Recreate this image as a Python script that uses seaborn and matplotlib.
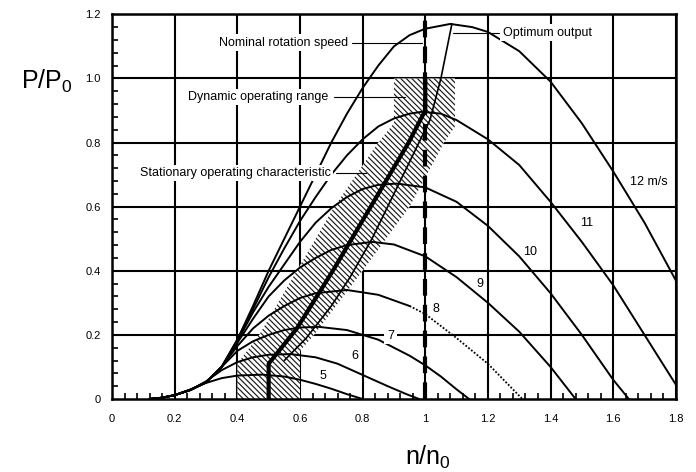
import numpy as np
import matplotlib
matplotlib.use('Agg')
import matplotlib.pyplot as plt
import seaborn as sns

sns.set_style('white')
plt.rcParams['font.family'] = ['Liberation Sans', 'DejaVu Sans']
plt.rcParams['mathtext.fontset'] = 'custom'
plt.rcParams['mathtext.rm'] = 'Liberation Sans'
plt.rcParams['hatch.linewidth'] = 0.85
plt.rcParams['text.color'] = 'black'
plt.rcParams['xtick.color'] = 'black'
plt.rcParams['ytick.color'] = 'black'

# 풍속별 출력 곡선 (n/n0, P/P0) - 그림에서 읽은 값
n_v5 = [0.12, 0.16, 0.2, 0.25, 0.3, 0.35, 0.4, 0.48, 0.55, 0.6, 0.65, 0.7, 0.75, 0.8]
p_v5 = [0.0, 0.004, 0.012, 0.03, 0.05, 0.065, 0.073, 0.076, 0.07, 0.06, 0.047, 0.032, 0.015, 0.0]

n_v6 = [0.12, 0.16, 0.2, 0.25, 0.3, 0.35, 0.4, 0.45, 0.5, 0.57, 0.65, 0.72, 0.8, 0.88, 0.94, 0.98]
p_v6 = [0.0, 0.004, 0.012, 0.028, 0.055, 0.09, 0.115, 0.13, 0.138, 0.14, 0.13, 0.11, 0.075, 0.04, 0.015, 0.0]

n_v7 = [0.12, 0.16, 0.2, 0.25, 0.3, 0.35, 0.4, 0.45, 0.5, 0.55, 0.6, 0.66, 0.75, 0.85, 0.95, 1.0, 1.05, 1.1, 1.14]
p_v7 = [0.0, 0.004, 0.012, 0.028, 0.052, 0.1, 0.15, 0.18, 0.2, 0.215, 0.223, 0.225, 0.215, 0.185, 0.135, 0.105, 0.07, 0.03, 0.0]

n_v8 = [0.12, 0.16, 0.2, 0.25, 0.3, 0.35, 0.4, 0.45, 0.5, 0.55, 0.6, 0.65, 0.75, 0.85, 0.95]
p_v8 = [0.0, 0.004, 0.012, 0.028, 0.052, 0.1, 0.165, 0.22, 0.26, 0.29, 0.315, 0.33, 0.34, 0.325, 0.29]
n_v8_tail = [0.95, 1.0, 1.1, 1.2, 1.31]
p_v8_tail = [0.29, 0.265, 0.19, 0.11, 0.0]

n_v9 = [0.12, 0.16, 0.2, 0.25, 0.3, 0.35, 0.4, 0.45, 0.5, 0.55, 0.6, 0.65, 0.7, 0.75, 0.83, 0.9, 1.0, 1.1, 1.2, 1.3, 1.4, 1.48]
p_v9 = [0.0, 0.004, 0.012, 0.028, 0.052, 0.1, 0.175, 0.25, 0.32, 0.37, 0.41, 0.44, 0.465, 0.48, 0.49, 0.482, 0.445, 0.38, 0.3, 0.21, 0.1, 0.0]

n_v10 = [0.12, 0.16, 0.2, 0.25, 0.3, 0.35, 0.4, 0.45, 0.5, 0.55, 0.6, 0.65, 0.7, 0.75, 0.8, 0.85, 0.91,
         1.0, 1.1, 1.2, 1.3, 1.4, 1.5, 1.6, 1.65]
p_v10 = [0.0, 0.004, 0.012, 0.028, 0.052, 0.1, 0.18, 0.27, 0.35, 0.42, 0.49, 0.55, 0.595, 0.63, 0.655, 0.668, 0.672,
         0.66, 0.615, 0.54, 0.445, 0.33, 0.2, 0.06, 0.0]

n_v11 = [0.12, 0.16, 0.2, 0.25, 0.3, 0.35, 0.4, 0.45, 0.5, 0.55, 0.6, 0.65, 0.7, 0.75, 0.8, 0.85, 0.9, 0.95, 0.99,
         1.05, 1.1, 1.2, 1.3, 1.4, 1.5, 1.6, 1.7, 1.8, 1.82]
p_v11 = [0.0, 0.004, 0.012, 0.028, 0.052, 0.1, 0.185, 0.28, 0.38, 0.47, 0.555, 0.63, 0.7, 0.76, 0.81, 0.85, 0.875, 0.89, 0.896,
         0.89, 0.87, 0.81, 0.73, 0.615, 0.49, 0.355, 0.2, 0.045, 0.0]

n_v12 = [0.12, 0.16, 0.2, 0.25, 0.3, 0.35, 0.4, 0.45, 0.5, 0.55, 0.6, 0.65, 0.7, 0.75, 0.8, 0.85, 0.9, 0.95, 1.0,
         1.08, 1.15, 1.2, 1.3, 1.4, 1.5, 1.6, 1.7, 1.8]
p_v12 = [0.0, 0.004, 0.012, 0.028, 0.052, 0.1, 0.185, 0.29, 0.4, 0.5, 0.6, 0.7, 0.8, 0.89, 0.97, 1.04, 1.1, 1.135, 1.155,
         1.17, 1.16, 1.145, 1.085, 0.99, 0.86, 0.71, 0.55, 0.37]

# 동적 운전 범위 (빗금 영역) 경계
band_n = [0.4, 0.4, 0.47, 0.59, 0.71, 0.85, 0.9, 0.9, 1.095, 1.095, 1.06, 0.95, 0.8, 0.645, 0.6, 0.6]
band_p = [0.0, 0.11, 0.2, 0.4, 0.6, 0.8, 0.86, 1.0, 1.0, 0.85, 0.8, 0.6, 0.4, 0.2, 0.15, 0.0]

# 정상 운전 특성 (굵은 선)
stat_n = [0.5, 0.5, 0.59, 0.705, 0.826, 0.947, 1.0, 1.0]
stat_p = [0.0, 0.11, 0.22, 0.4, 0.6, 0.8, 0.9, 1.0]

# 최적 출력 선
opt_n = [0.55, 0.62, 0.7, 0.76, 0.83, 0.88, 0.97, 1.015, 1.05, 1.085]
opt_p = [0.12, 0.19, 0.29, 0.38, 0.5, 0.6, 0.78, 0.87, 1.0, 1.17]

speed_labels = ['5', '6', '7', '8', '9', '10', '11', '12 m/s']
label_n = [0.674, 0.774, 0.889, 1.035, 1.175, 1.335, 1.515, 1.715]
label_p = [0.073, 0.135, 0.198, 0.28, 0.36, 0.46, 0.55, 0.676]

x_ticks = [0, 0.2, 0.4, 0.6, 0.8, 1.0, 1.2, 1.4, 1.6, 1.8]
x_ticklabels = ['0', '0.2', '0.4', '0.6', '0.8', '1', '1.2', '1.4', '1.6', '1.8']
y_ticks = [0, 0.2, 0.4, 0.6, 0.8, 1.0, 1.2]
y_ticklabels = ['0', '0.2', '0.4', '0.6', '0.8', '1.0', '1.2']

fig = plt.figure(figsize=(6.96, 4.72), dpi=100)
ax = fig.add_axes([0.161, 0.1547, 0.810, 0.815])

# 그리드
for xv in x_ticks[1:]:
    ax.axvline(xv, color='black', lw=1.5, zorder=1)
for yv in y_ticks[1:]:
    ax.axhline(yv, color='black', lw=1.5, zorder=1)

# 빗금 영역
ax.fill(band_n, band_p, facecolor='white', edgecolor='#1a1a1a', hatch='\\\\\\\\\\\\', lw=0, zorder=2)

# 곡선
curves = [(n_v5, p_v5), (n_v6, p_v6), (n_v7, p_v7), (n_v8, p_v8), (n_v9, p_v9),
          (n_v10, p_v10), (n_v11, p_v11), (n_v12, p_v12)]
for cn, cp in curves:
    sns.lineplot(x=cn, y=cp, ax=ax, color='black', lw=1.4, sort=False, estimator=None, zorder=3)
sns.lineplot(x=n_v8_tail, y=p_v8_tail, ax=ax, color='black', lw=1.3, ls=(0, (1, 1)),
             sort=False, estimator=None, zorder=3)

sns.lineplot(x=opt_n, y=opt_p, ax=ax, color='black', lw=1.2, sort=False, estimator=None, zorder=4)
sns.lineplot(x=stat_n, y=stat_p, ax=ax, color='black', lw=3.0, sort=False, estimator=None, zorder=4)

# 정격 회전속도 (점선)
ax.axvline(1.0, color='black', lw=3.0, ls=(0, (4, 2.2)), zorder=4)

# 풍속 라벨 (7 은 격자선 위에 흰 배경)
for s, ln, lp in zip(speed_labels, label_n, label_p):
    if s == '7':
        ax.text(ln, lp, s, fontsize=9, ha='center', va='center', zorder=6,
                bbox=dict(facecolor='white', edgecolor='none', pad=2.0))
    else:
        ax.text(ln, lp, s, fontsize=9, ha='center', va='center', zorder=6)

# 주석
bb = dict(facecolor='white', edgecolor='none', pad=1.5)
ax.text(0.753, 1.112, 'Nominal rotation speed', fontsize=9, ha='right', va='center', bbox=bb, zorder=6)
ax.plot([0.765, 0.99], [1.112, 1.112], color='black', lw=0.8, zorder=5)
ax.text(1.247, 1.143, 'Optimum output', fontsize=9, ha='left', va='center', bbox=bb, zorder=6)
ax.plot([1.09, 1.235], [1.143, 1.143], color='black', lw=0.8, zorder=5)
ax.text(0.689, 0.941, 'Dynamic operating range', fontsize=9, ha='right', va='center', bbox=bb, zorder=6)
ax.plot([0.71, 0.935], [0.941, 0.941], color='black', lw=0.8, zorder=5)
ax.text(0.70, 0.704, 'Stationary operating characteristic', fontsize=9, ha='right', va='center', bbox=bb, zorder=6)
ax.plot([0.715, 0.81], [0.704, 0.704], color='black', lw=0.8, zorder=5)

ax.set_xlim(0, 1.8)
ax.set_ylim(0, 1.2)
ax.set_xticks(x_ticks)
ax.set_xticklabels(x_ticklabels, fontsize=8)
ax.set_yticks(y_ticks)
ax.set_yticklabels(y_ticklabels, fontsize=8)
ax.set_xticks(np.arange(0, 1.8001, 0.04), minor=True)
ax.set_yticks(np.arange(0, 1.2001, 0.04), minor=True)
ax.tick_params(axis='x', which='major', length=0, pad=11)
ax.tick_params(axis='y', which='major', length=0, pad=8)
ax.tick_params(which='minor', direction='in', length=4, width=1.2, color='black')
ax.tick_params(axis='x', which='minor', top=False, bottom=True)
ax.tick_params(axis='y', which='minor', left=True, right=False)
ax.set_xlabel('')
ax.set_ylabel('')
for sp in ax.spines.values():
    sp.set_color('black')
    sp.set_linewidth(1.8)

fig.text(21 / 696, 1 - 81 / 472, r'P/P$_\mathrm{0}$', fontsize=18, ha='left', va='center')
fig.text(428 / 696, 1 - 457 / 472, r'n/n$_\mathrm{0}$', fontsize=18, ha='center', va='center')

fig.savefig('out.png', dpi=100)
